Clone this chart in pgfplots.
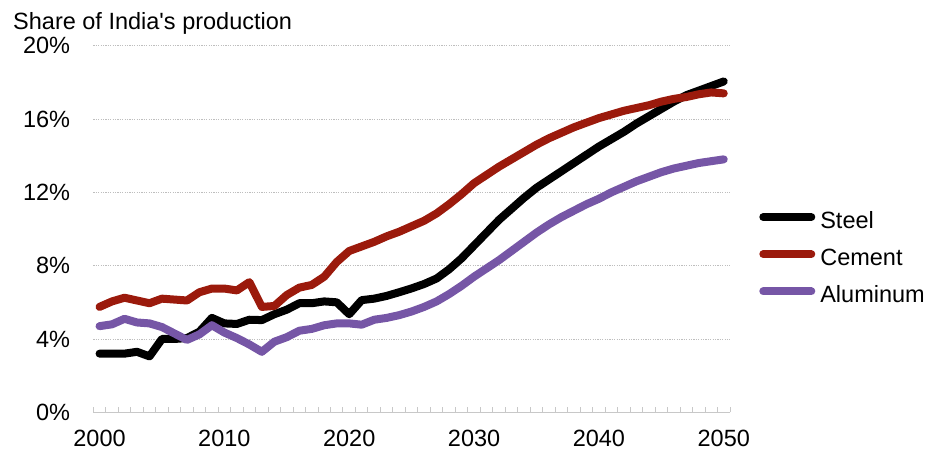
\documentclass[border=0pt]{standalone}
\usepackage{pgfplots}
\usepackage{pgfplotstable}
\pgfplotsset{compat=1.18}
\usepackage{fontspec}
\setmainfont{Liberation Sans}[Ligatures=TeXOff]

\definecolor{steelc}{RGB}{0,0,0}
\definecolor{cementc}{RGB}{155,26,12}
\definecolor{aluc}{RGB}{118,86,166}
\definecolor{gridc}{RGB}{190,190,190}
\definecolor{axisc}{RGB}{200,200,200}

\newcommand{\chartfont}{\fontsize{23.5bp}{28bp}\selectfont}

% Share of India's production, percent
\pgfplotstableread{
year steel cement aluminum
2000 3.20 5.75 4.70
2001 3.20 6.05 4.80
2002 3.20 6.25 5.10
2003 3.30 6.10 4.90
2004 3.05 5.95 4.85
2005 4.00 6.20 4.65
2006 4.00 6.15 4.30
2007 4.05 6.10 3.95
2008 4.40 6.55 4.25
2009 5.15 6.75 4.75
2010 4.85 6.75 4.35
2011 4.82 6.65 4.05
2012 5.05 7.10 3.70
2013 5.03 5.75 3.30
2014 5.35 5.80 3.85
2015 5.60 6.40 4.10
2016 5.95 6.80 4.45
2017 5.95 6.95 4.55
2018 6.05 7.40 4.75
2019 6.00 8.20 4.85
2020 5.35 8.80 4.85
2021 6.12 9.05 4.78
2022 6.20 9.30 5.05
2023 6.35 9.60 5.15
2024 6.55 9.85 5.30
2025 6.76 10.15 5.50
2026 7.00 10.45 5.75
2027 7.30 10.85 6.05
2028 7.80 11.35 6.45
2029 8.40 11.90 6.90
2030 9.10 12.50 7.40
2031 9.80 12.95 7.85
2032 10.50 13.40 8.30
2033 11.10 13.80 8.80
2034 11.70 14.20 9.30
2035 12.25 14.60 9.80
2036 12.70 14.95 10.25
2037 13.15 15.25 10.65
2038 13.60 15.55 11.00
2039 14.05 15.80 11.35
2040 14.50 16.05 11.65
2041 14.90 16.25 12.00
2042 15.30 16.45 12.30
2043 15.75 16.60 12.60
2044 16.15 16.75 12.85
2045 16.55 16.95 13.10
2046 16.95 17.10 13.30
2047 17.30 17.20 13.45
2048 17.55 17.35 13.60
2049 17.80 17.45 13.70
2050 18.05 17.40 13.80
}\sharedata

\begin{document}
\begin{tikzpicture}
\useasboundingbox (0,0) rectangle (936bp,450bp);
\node[anchor=base west, inner sep=0pt, font=\chartfont]
  at (13bp,420.5bp) {Share of India's production};
\begin{axis}[
  at={(93.3bp,37.7bp)}, anchor=south west,
  scale only axis, width=636.7bp, height=366.6bp,
  xmin=1999.5, xmax=2050.5, ymin=0, ymax=20,
  clip=false,
  axis lines*=left,
  y axis line style={draw=none},
  x axis line style={draw=axisc, line width=1bp, -},
  xtick={2000,2010,...,2050},
  xticklabels={2000,2010,2020,2030,2040,2050},
  minor xtick={1999.5,2000.5,...,2050.5},
  ytick={0,4,8,12,16,20},
  yticklabels={0\%,4\%,8\%,12\%,16\%,20\%},
  major tick length=0pt,
  minor tick length=5bp,
  tick align=inside,
  minor tick style={draw=axisc, line width=1bp},
  ymajorgrids,
  major grid style={draw=gridc, line width=0.8bp, dash pattern=on 1.2bp off 1.2bp},
  tick label style={font=\chartfont},
  yticklabel style={anchor=east, inner sep=0pt, xshift=-23bp},
  xticklabel style={anchor=base, inner sep=0pt, yshift=-34.5bp},
  legend cell align=left,
  legend style={
    at={(1.046,0.5456)}, anchor=north west,
    draw=none, fill=none, inner sep=0pt, outer sep=0pt,
    font=\chartfont,
    nodes={inner sep=0pt, text height=16bp, text depth=4.5bp},
    row sep=16.7bp,
    /tikz/every odd column/.append style={column sep=5bp},
  },
  legend image code/.code={
    \draw[#1, line width=8bp, line cap=round] (0bp,5.5bp) -- (48bp,5.5bp);
  },
  every axis plot/.append style={line width=8bp, line join=round, line cap=round},
]
\addplot[steelc] table[x=year, y=steel] {\sharedata};
\addlegendentry{Steel}
\addplot[cementc] table[x=year, y=cement] {\sharedata};
\addlegendentry{Cement}
\addplot[aluc] table[x=year, y=aluminum] {\sharedata};
\addlegendentry{Aluminum}
\end{axis}
\end{tikzpicture}
\end{document}
